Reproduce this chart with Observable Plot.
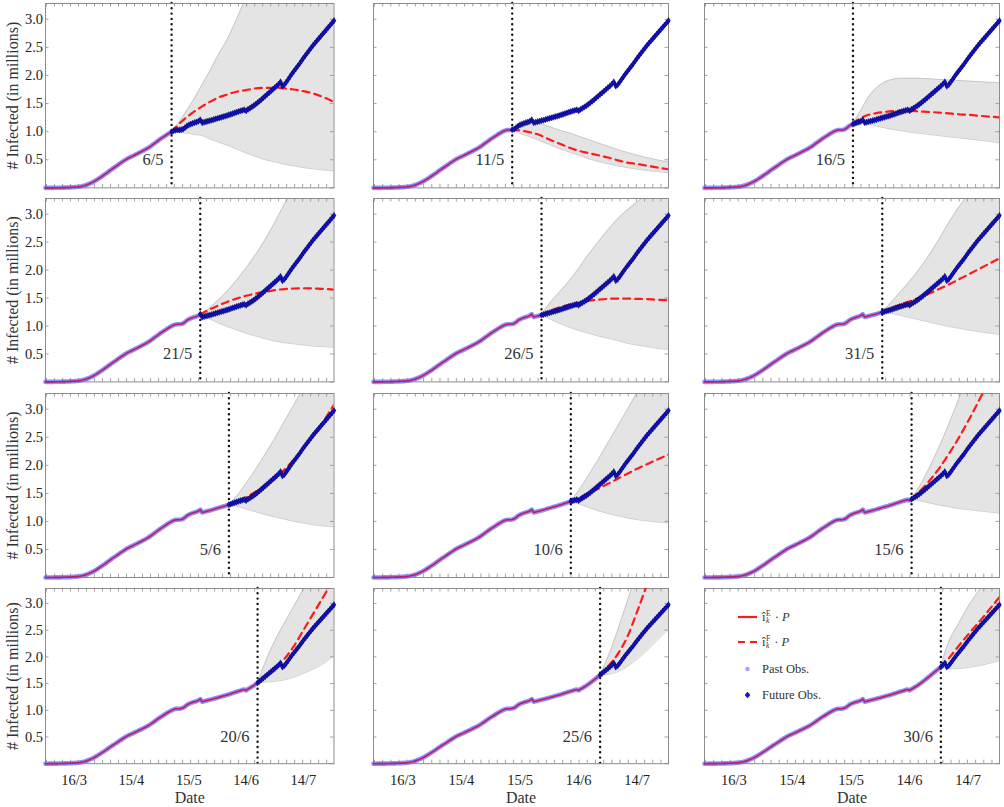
<!DOCTYPE html>
<html>
<head>
<meta charset="utf-8">
<script src="https://cdn.jsdelivr.net/npm/d3@7"></script>
<script src="https://cdn.jsdelivr.net/npm/@observablehq/plot@0.6"></script>
<style>
  body { margin: 0; background: #fff; }
  #chart { position: relative; width: 1004px; height: 807px; background: #fff; overflow: hidden;
           font-family: "Liberation Serif", "Times New Roman", serif; }
  #chart svg { position: absolute; }
  #chart svg text { font-family: "Liberation Serif", "Times New Roman", serif !important; }
  .legend { position: absolute; left: 0; top: 0; font-size: 12.5px; color: #333; font-family: "Liberation Serif", serif; }
  .legend .row { position: absolute; display: flex; align-items: center; white-space: nowrap; height: 20px; }
  .legend .sw { width: 26px; height: 20px; display: inline-block; }
  .mth { display: inline-flex; align-items: center; }
  .ss { display: inline-flex; flex-direction: column; font-size: 7.5px; line-height: 7.5px; margin: 0 1px 0 0.5px; }
</style>
</head>
<body>
<div id="chart"></div>
<script>
// ---------------- data ----------------
const startDate = "2020-03-01"; // day 0 of the series
// Observed infected (millions), daily from 1/3 to 30/7
const observed = [
  0.000, 0.000, 0.001, 0.001, 0.001, 0.002, 0.002, 0.003, 0.003, 0.004,
  0.005, 0.006, 0.007, 0.009, 0.011, 0.013, 0.016, 0.019, 0.023, 0.030,
  0.038, 0.048, 0.060, 0.074, 0.090, 0.107, 0.126, 0.147, 0.170, 0.193,
  0.216, 0.240, 0.264, 0.290, 0.315, 0.340, 0.362, 0.385, 0.410, 0.435,
  0.458, 0.480, 0.503, 0.523, 0.540, 0.556, 0.572, 0.590, 0.607, 0.625,
  0.642, 0.660, 0.678, 0.697, 0.717, 0.740, 0.765, 0.790, 0.816, 0.842,
  0.866, 0.889, 0.912, 0.935, 0.958, 0.978, 0.998, 1.015, 1.027, 1.030,
  1.030, 1.035, 1.045, 1.070, 1.100, 1.120, 1.135, 1.148, 1.160, 1.170,
  1.185, 1.210, 1.160, 1.168, 1.178, 1.187, 1.196, 1.205, 1.215, 1.226,
  1.236, 1.246, 1.256, 1.266, 1.276, 1.287, 1.298, 1.310, 1.322, 1.334,
  1.346, 1.357, 1.368, 1.378, 1.388, 1.372, 1.398, 1.418, 1.440, 1.462,
  1.488, 1.515, 1.543, 1.572, 1.602, 1.632, 1.662, 1.692, 1.722, 1.752,
  1.782, 1.812, 1.845, 1.885, 1.810, 1.835, 1.880, 1.930, 1.980, 2.030,
  2.075, 2.120, 2.165, 2.210, 2.260, 2.310, 2.355, 2.400, 2.445, 2.490,
  2.535, 2.575, 2.615, 2.655, 2.695, 2.735, 2.775, 2.815, 2.855, 2.895,
  2.935, 2.975
];

const splitLabels = ["6/5","11/5","16/5","21/5","26/5","31/5","5/6","10/6","15/6","20/6","25/6","30/6"];
const splitDays   = [66, 71, 76, 81, 86, 91, 96, 101, 106, 111, 116, 121];

// Forecast (red dashed) and uncertainty band per panel, at these day offsets
const fcDays = [
  [66,70,74,78,82,86,90,95,100,105,110,115,120,125,130,135,140,145,151],
  [71,75,80,85,90,95,100,105,110,115,120,125,130,135,140,145,151],
  [76,80,84,88,92,96,100,105,110,115,120,125,130,135,140,145,151],
  [81,85,90,95,100,105,110,115,120,125,130,135,140,145,151],
  [86,90,95,100,105,110,115,120,125,130,135,140,145,151],
  [91,95,100,105,110,115,120,125,130,135,140,145,151],
  [96,100,105,110,115,120,125,130,135,140,145,151],
  [101,105,110,115,120,125,130,135,140,145,151],
  [106,110,115,120,125,130,135,140,145,151],
  [111,115,120,125,130,135,140,145,151],
  [116,120,125,130,135,140,145,151],
  [121,123,125,130,135,140,145,151]
];
const fcMean = [
  [1.00,1.14,1.26,1.36,1.45,1.53,1.60,1.66,1.71,1.74,1.77,1.78,1.78,1.77,1.75,1.72,1.68,1.62,1.53],
  [1.03,1.02,0.99,0.94,0.86,0.79,0.72,0.66,0.62,0.58,0.54,0.49,0.45,0.425,0.395,0.365,0.33],
  [1.14,1.24,1.30,1.33,1.35,1.365,1.37,1.37,1.36,1.35,1.34,1.325,1.31,1.30,1.285,1.27,1.255],
  [1.21,1.28,1.36,1.43,1.49,1.54,1.58,1.61,1.64,1.66,1.67,1.675,1.67,1.665,1.65],
  [1.20,1.26,1.33,1.38,1.42,1.45,1.47,1.485,1.49,1.49,1.485,1.48,1.47,1.46],
  [1.25,1.31,1.38,1.44,1.51,1.58,1.66,1.74,1.83,1.92,2.01,2.10,2.21],
  [1.30,1.35,1.43,1.53,1.64,1.77,1.92,2.10,2.30,2.52,2.76,3.08],
  [1.36,1.42,1.50,1.58,1.67,1.76,1.85,1.94,2.02,2.10,2.19],
  [1.40,1.53,1.72,1.94,2.20,2.48,2.79,3.12,3.48,3.95],
  [1.52,1.63,1.78,1.96,2.20,2.50,2.80,3.10,3.45],
  [1.66,1.82,2.05,2.38,2.85,3.35,3.85,4.50],
  [1.81,1.89,1.97,2.20,2.42,2.63,2.85,3.12]
];
const fcLower = [
  [1.00,0.99,0.97,0.95,0.93,0.87,0.82,0.76,0.69,0.62,0.56,0.50,0.46,0.42,0.39,0.36,0.34,0.32,0.30],
  [1.03,0.97,0.91,0.84,0.77,0.70,0.64,0.58,0.52,0.47,0.43,0.39,0.36,0.33,0.31,0.29,0.27],
  [1.14,1.14,1.13,1.10,1.07,1.04,1.02,0.99,0.97,0.95,0.93,0.91,0.89,0.87,0.85,0.83,0.80],
  [1.21,1.14,1.06,0.99,0.93,0.87,0.82,0.77,0.73,0.70,0.68,0.66,0.64,0.63,0.62],
  [1.20,1.13,1.05,0.98,0.92,0.87,0.82,0.78,0.74,0.69,0.655,0.63,0.60,0.58],
  [1.25,1.23,1.19,1.15,1.11,1.07,1.03,0.99,0.96,0.93,0.90,0.875,0.85],
  [1.30,1.27,1.22,1.17,1.12,1.08,1.04,1.00,0.97,0.94,0.92,0.90],
  [1.36,1.31,1.25,1.19,1.14,1.10,1.06,1.03,1.01,0.99,0.97],
  [1.40,1.37,1.33,1.29,1.26,1.23,1.21,1.19,1.17,1.15],
  [1.52,1.53,1.54,1.57,1.62,1.69,1.77,1.86,2.02],
  [1.66,1.67,1.72,1.82,1.96,2.12,2.30,2.52],
  [1.81,1.79,1.78,1.78,1.80,1.83,1.87,1.93]
];
const fcUpper = [
  [1.00,1.18,1.38,1.60,1.84,2.08,2.34,2.64,3.00,3.40,3.80,4.20,4.60,5.00,5.40,5.80,6.20,6.60,7.00],
  [1.03,1.10,1.15,1.14,1.09,1.03,0.98,0.92,0.86,0.80,0.74,0.68,0.63,0.58,0.54,0.50,0.46],
  [1.14,1.38,1.62,1.78,1.88,1.93,1.95,1.95,1.95,1.94,1.93,1.92,1.91,1.90,1.89,1.88,1.87],
  [1.21,1.30,1.45,1.62,1.82,2.04,2.28,2.55,2.85,3.18,3.50,3.85,4.20,4.55,5.00],
  [1.20,1.40,1.60,1.80,2.03,2.28,2.50,2.72,2.92,3.08,3.22,3.36,3.50,3.66],
  [1.25,1.40,1.60,1.80,2.02,2.27,2.55,2.85,3.12,3.36,3.60,3.85,4.15],
  [1.30,1.45,1.68,1.93,2.20,2.48,2.78,3.08,3.38,3.70,4.00,4.40],
  [1.36,1.55,1.82,2.10,2.40,2.70,3.00,3.30,3.60,3.90,4.25],
  [1.40,1.62,1.95,2.32,2.73,3.17,3.60,4.05,4.50,5.10],
  [1.52,1.90,2.30,2.63,2.95,3.27,3.60,3.90,4.30],
  [1.66,2.00,2.50,3.05,3.60,4.10,4.60,5.20],
  [1.81,2.08,2.28,2.62,2.95,3.22,3.50,3.80]
];

const xTickLabels = ["16/3", "15/4", "15/5", "14/6", "14/7"];
const xTickDays   = [15, 45, 75, 105, 135];
const yTickValues = [0.5, 1.0, 1.5, 2.0, 2.5, 3.0];
const yLabel = "# Infected (in millions)";
const xLabel = "Date";

// ---------------- layout ----------------
const colX = [45, 373, 704], colW = [288.5, 295, 295];
const rowY = [3.3, 198.3, 393.3, 588.3], rowH = [184.4, 183.4, 184, 175.2];
const ML = 45, MR = 8, MT = 5, MB = 44;
const FONT = "Liberation Serif";
const FRAME = "#8c8c8c";

const base = new Date(startDate + "T00:00:00Z");
const toDate = d => new Date(base.getTime() + d * 864e5);
const obs = observed.map((v, i) => ({date: toDate(i), day: i, v}));
const minorTicks = d3.range(0.5, 151, 4.19);
const yFrameTicks = [0, ...yTickValues];

const chart = document.getElementById("chart");

for (let p = 0; p < 12; p++) {
  const r = Math.floor(p / 3), c = p % 3;
  const W = colW[c], H = rowH[r];
  const s = splitDays[p];
  const past = obs.filter(d => d.day <= s);
  const future = obs.filter(d => d.day >= s);
  const fc = fcDays[p].map((d, j) => ({date: toDate(d), mean: fcMean[p][j], lo: fcLower[p][j], hi: fcUpper[p][j]}));

  const marks = [
    Plot.areaY(fc, {x: "date", y1: "lo", y2: "hi", fill: "#e4e4e4", curve: "monotone-x", clip: true}),
    Plot.line(fc, {x: "date", y: "lo", stroke: "#bcbcbc", strokeWidth: 0.7, curve: "monotone-x", clip: true}),
    Plot.line(fc, {x: "date", y: "hi", stroke: "#bcbcbc", strokeWidth: 0.7, curve: "monotone-x", clip: true}),
    Plot.ruleX([toDate(s)], {stroke: "#111", strokeWidth: 2.4, strokeDasharray: "0,5.3", strokeLinecap: "round"}),
    Plot.frame({stroke: FRAME, strokeWidth: 1}),
    Plot.tickX(minorTicks, {x: d => toDate(d), stroke: FRAME, strokeWidth: 0.8, insetTop: H - 3.5}),
    Plot.tickX(minorTicks, {x: d => toDate(d), stroke: FRAME, strokeWidth: 0.8, insetBottom: H - 3.5}),
    Plot.tickY(yFrameTicks, {y: d => d, stroke: FRAME, strokeWidth: 0.8, insetRight: W - 3.5}),
    Plot.tickY(yFrameTicks, {y: d => d, stroke: FRAME, strokeWidth: 0.8, insetLeft: W - 3.5}),
    Plot.line(past, {x: "date", y: "v", stroke: "#6a6aff", strokeOpacity: 0.75, strokeWidth: 4.6}),
    Plot.line(past, {x: "date", y: "v", stroke: "#ff1010", strokeOpacity: 0.9, strokeWidth: 1.6}),
    Plot.line(past, {x: "date", y: "v", stroke: "#3030ff", strokeOpacity: 0.3, strokeWidth: 1.6}),
    Plot.line(fc, {x: "date", y: "mean", stroke: "#ff1a1a", strokeWidth: 2.2, strokeDasharray: "7,5", curve: "monotone-x", clip: true}),
    Plot.line(future, {x: "date", y: "v", stroke: "#0a0aa8", strokeWidth: 3.1}),
    Plot.dot(future, {x: "date", y: "v", symbol: "diamond", r: 1.9, fill: "#1414c4", stroke: "#00005a", strokeWidth: 0.5}),
    Plot.text([splitLabels[p]], {x: toDate(s), y: 0.5, text: d => d, textAnchor: "end", lineAnchor: "middle", dx: -8, fontSize: 16.5, fontFamily: FONT, fill: "#333"})
  ];
  if (r === 3) {
    marks.push(Plot.text(xTickDays, {x: d => toDate(d), text: (d, i) => xTickLabels[i], frameAnchor: "bottom", textAnchor: "middle", lineAnchor: "middle", dy: 16.5, fontSize: 14.5, fontFamily: FONT, fill: "#222"}));
    marks.push(Plot.text([xLabel], {text: d => d, frameAnchor: "bottom", textAnchor: "middle", lineAnchor: "middle", dy: 34, fontSize: 16, fontFamily: FONT, fill: "#333"}));
  }
  if (c === 0) {
    marks.push(Plot.text(yTickValues, {y: d => d, text: d => d.toFixed(1), frameAnchor: "left", textAnchor: "end", lineAnchor: "middle", dx: -2.5, fontSize: 14.5, fontFamily: FONT, fill: "#222"}));
    marks.push(Plot.text([yLabel], {text: d => d, frameAnchor: "left", textAnchor: "middle", lineAnchor: "middle", dx: -33, rotate: -90, fontSize: 16, fontFamily: FONT, fill: "#333"}));
  }

  const svg = Plot.plot({
    width: W + ML + MR,
    height: H + MT + MB,
    marginLeft: ML, marginRight: MR, marginTop: MT, marginBottom: MB,
    x: {type: "utc", domain: [toDate(0), toDate(151)], axis: null},
    y: {domain: [0, 3.28], axis: null},
    style: {background: "transparent", overflow: "visible", fontFamily: FONT, fontSize: "14.5px", color: "#222"},
    marks
  });
  svg.style.left = (colX[c] - ML) + "px";
  svg.style.top = (rowY[r] - MT) + "px";
  svg.style.maxWidth = "none";
  chart.appendChild(svg);
}

// ---------------- legend (inside the last panel) ----------------
const legendItems = [
  {kind: "solid", html: '<span class="mth">î<span class="ss"><span>E</span><span><i>k</i></span></span>&nbsp;·&nbsp;<i>P</i></span>'},
  {kind: "dashed", html: '<span class="mth">î<span class="ss"><span>F</span><span><i>k</i></span></span>&nbsp;·&nbsp;<i>P</i></span>'},
  {kind: "past", html: "Past Obs."},
  {kind: "future", html: "Future Obs."}
];
const legendY = [617, 642, 669, 695];
const legend = document.createElement("div");
legend.className = "legend";
legendItems.forEach((it, i) => {
  const row = document.createElement("div");
  row.className = "row";
  row.style.left = "736px";
  row.style.top = (legendY[i] - 10) + "px";
  let sw = "";
  if (it.kind === "solid") sw = '<line x1="2" x2="21" y1="10" y2="10" stroke="#ff1a1a" stroke-width="2.2"/>';
  if (it.kind === "dashed") sw = '<line x1="2" x2="21" y1="10" y2="10" stroke="#ff1a1a" stroke-width="2.2" stroke-dasharray="7,5"/>';
  if (it.kind === "past") sw = '<circle cx="11.5" cy="10" r="2.2" fill="#7a7aff" fill-opacity="0.7"/>';
  if (it.kind === "future") sw = '<path d="M11.5,7 L14,10 L11.5,13 L9,10 Z" fill="#1414c4" stroke="#00005a" stroke-width="0.5"/>';
  row.innerHTML = '<svg class="sw" width="26" height="20" style="position:static">' + sw + '</svg><span>' + it.html + '</span>';
  legend.appendChild(row);
});
chart.appendChild(legend);
</script>
</body>
</html>
